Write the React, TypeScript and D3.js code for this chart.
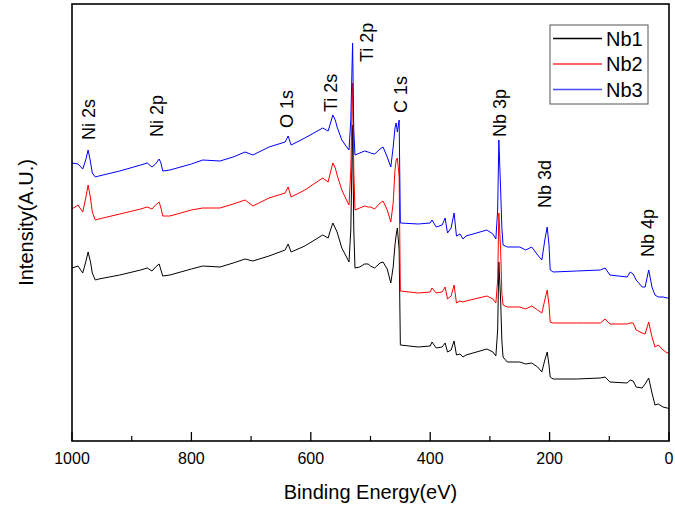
import React from 'react'
import * as d3 from 'd3'

// XPS survey spectra, binding energy in eV, intensity in arbitrary units
const energy = [1000, 990, 982, 977, 973, 969, 966, 961, 955, 920, 885, 874, 866, 860, 854, 851, 848, 836, 800, 781,
  752, 730, 710, 697, 670, 643, 638, 633, 610, 580, 571, 567, 563, 559, 556, 548, 541, 536, 533, 530,
  528, 526, 518, 510, 504, 500, 493, 484, 479, 472, 466, 462, 459, 457, 455, 452, 450, 420, 400, 397,
  390, 380, 375, 371, 365, 360, 356, 350, 345, 340, 305, 295, 290, 287, 285, 282, 280, 278, 271, 250,
  240, 230, 220, 213, 208, 204, 201, 199, 194, 155, 115, 107, 99, 70, 65, 60, 55, 45, 40, 34,
  28.5, 23.5, 18, 10, 3, 0]

const nb1 = [173, 175, 168, 179, 189, 179, 168, 161, 162, 166, 171, 173, 170, 174, 177, 171, 165, 166, 172, 175,
  174, 178, 182, 180, 185, 191, 197, 189, 195, 206, 203, 211, 218, 213, 209, 193, 185, 179, 211, 316,
  211, 173, 174, 177, 177, 175, 173, 178, 179, 172, 158, 174, 196, 206, 213, 191, 96, 94, 95, 99,
  93, 94, 98, 89, 91, 100, 86, 87, 84, 86, 92, 89, 85, 111, 179, 141, 101, 84, 79, 79,
  77, 78, 74, 69, 81, 89, 76, 64, 62, 62, 63, 64, 59, 58, 61, 60, 54, 53, 57, 63,
  48, 36, 37, 34, 33, 32]

const nb2 = [232, 236, 229, 243, 256, 243, 229, 221, 222, 227, 232, 234, 232, 236, 239, 233, 225, 225, 231, 233,
  233, 237, 241, 235, 243, 248, 254, 244, 251, 263, 259, 269, 278, 273, 266, 251, 242, 236, 271, 358,
  271, 231, 233, 235, 234, 234, 232, 238, 240, 231, 219, 238, 271, 281, 283, 264, 150, 148, 149, 153,
  148, 149, 154, 142, 145, 156, 138, 140, 139, 140, 145, 142, 138, 161, 228, 191, 148, 136, 134, 134,
  132, 135, 131, 128, 141, 151, 136, 119, 118, 118, 118, 122, 117, 117, 118, 118, 111, 108, 107, 119,
  104, 94, 96, 91, 88, 89]

const nb3 = [278, 277, 272, 281, 291, 279, 268, 264, 265, 270, 276, 278, 274, 277, 282, 278, 270, 271, 277, 281,
  280, 284, 289, 286, 294, 299, 305, 296, 303, 313, 310, 318, 326, 321, 314, 301, 295, 291, 321, 398,
  311, 286, 288, 290, 289, 288, 287, 292, 294, 284, 274, 294, 313, 318, 309, 321, 218, 217, 218, 221,
  214, 216, 223, 208, 213, 228, 205, 207, 202, 205, 211, 207, 202, 231, 301, 251, 214, 196, 194, 194,
  191, 194, 186, 181, 201, 214, 196, 171, 169, 170, 171, 173, 166, 164, 169, 167, 161, 154, 154, 171,
  154, 146, 144, 144, 143, 143]

const seriesNames = ['Nb1', 'Nb2', 'Nb3']
const xTicks = [1000, 800, 600, 400, 200, 0]
const xMinorTicks = [900, 700, 500, 300, 100]

const peakNames = ['Ni 2s', 'Ni 2p', 'O 1s', 'Ti 2s', 'Ti 2p', 'C 1s', 'Nb 3p', 'Nb 3d', 'Nb 4p']
const peakEnergy = [971.5, 857.6, 639.9, 567.8, 507.5, 448.9, 283.1, 207.7, 35.2]
const peakLevel = [301, 304, 313, 329, 379, 328, 304, 233, 184]

const W = 675
const H = 508
const margin = { top: 4, right: 6, bottom: 67, left: 72 }
const font = '"Liberation Sans", Arial, sans-serif'

export default function App() {
  const x = d3.scaleLinear().domain([1000, 0]).range([margin.left, W - margin.right])
  const y = d3.scaleLinear().domain([0, 437]).range([H - margin.bottom, margin.top])

  const colors = ['#000000', '#ff0000', '#0000ff']
  const legendColors = ['#000000', '#ff3030', '#4a4aff']
  const all = [nb1, nb2, nb3]

  const line = d3.line<number>()
    .x((d, i) => x(energy[i]))
    .y(d => y(d))

  const x0 = x(1000), x1 = x(0), yb = y(0), yt = y(437)

  return (
    <svg width={W} height={H} style={{ position: 'absolute', left: 0, top: 0, background: '#fff' }} fontFamily={font}>
      <rect x={0} y={0} width={W} height={H} fill="#fff" />

      {all.map((s, k) => (
        <path key={k} d={line(s) || ''} fill="none" stroke={colors[k]} strokeWidth={1} strokeLinejoin="round" />
      ))}

      {/* frame */}
      <rect x={x0} y={yt} width={x1 - x0} height={yb - yt} fill="none" stroke="#000" strokeWidth={1.6} />

      {/* x ticks */}
      {xTicks.map(t => (
        <g key={t}>
          <line x1={x(t)} x2={x(t)} y1={yb} y2={yb - 9} stroke="#000" strokeWidth={1.3} />
          <text x={x(t)} y={yb + 23} textAnchor="middle" fontSize={16} fill="#000">{t}</text>
        </g>
      ))}
      {xMinorTicks.map(t => (
        <line key={t} x1={x(t)} x2={x(t)} y1={yb} y2={yb - 5} stroke="#000" strokeWidth={1.2} />
      ))}

      <text x={(x0 + x1) / 2} y={H - 9} textAnchor="middle" fontSize={20} fill="#000">Binding Energy(eV)</text>
      <text transform={`translate(33,${(yt + yb) / 2}) rotate(-90)`} textAnchor="middle" fontSize={20} fill="#000">Intensity(A.U.)</text>

      {/* peak labels */}
      {peakNames.map((p, i) => (
        <text key={p} transform={`translate(${x(peakEnergy[i])},${y(peakLevel[i])}) rotate(-90)`}
          dy="0.36em" fontSize={18} fill="#000">{p}</text>
      ))}

      {/* legend */}
      <rect x={550} y={25} width={98} height={79} fill="#fff" stroke="#555" strokeWidth={1} />
      {seriesNames.map((n, i) => (
        <g key={n}>
          <line x1={553} x2={602} y1={38.5 + i * 25.5} y2={38.5 + i * 25.5} stroke={legendColors[i]} strokeWidth={1.3} />
          <text x={606} y={38.5 + i * 25.5} dy="0.36em" fontSize={20} fill="#000">{n}</text>
        </g>
      ))}
    </svg>
  )
}
